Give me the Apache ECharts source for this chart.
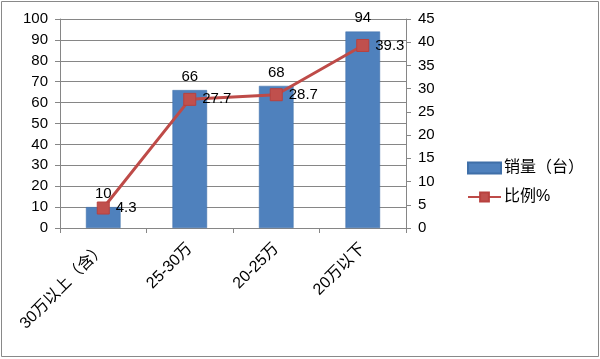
<!DOCTYPE html>
<html><head><meta charset="utf-8">
<script src="https://cdn.jsdelivr.net/npm/echarts@6/dist/echarts.min.js"></script>
<style>html,body{margin:0;padding:0;background:#fff}#c{width:600px;height:359px}</style>
</head><body><div id="c"></div>
<script>
const categories = ['30万以上（含）', '25-30万', '20-25万', '20万以下'];
const salesValues = [10, 66, 68, 94];
const ratioValues = [4.3, 27.7, 28.7, 39.3];
const leftTicks = {min: 0, max: 100, interval: 10};
const rightTicks = {min: 0, max: 45, interval: 5};

const font = 'Arial, "Liberation Sans", "Noto Sans CJK SC", sans-serif';
const chart = echarts.init(document.getElementById('c'));
chart.setOption({
  animation: false,
  textStyle: {fontFamily: font},
  graphic: [{type: 'rect', shape: {x: 1.5, y: 1.5, width: 597, height: 355}, style: {fill: 'none', stroke: '#898989', lineWidth: 1}, z: -1}],
  grid: {left: 60, right: 194, top: 19, bottom: 131},
  legend: {
    orient: 'vertical', left: 462, top: 155, itemWidth: 33, itemHeight: 11, itemGap: 13,
    textStyle: {fontSize: 16, color: '#000', fontFamily: font, padding: [0, 0, 0, -2]},
    data: [{name: '销量（台）', icon: 'rect'}, {name: '比例%'}]
  },
  xAxis: {
    type: 'category', data: categories,
    axisLine: {lineStyle: {color: '#868686'}},
    axisTick: {show: true, length: 5, lineStyle: {color: '#868686'}},
    axisLabel: {rotate: 45, fontSize: 16, color: '#000', margin: 18, fontFamily: font}
  },
  yAxis: [{
    type: 'value', ...leftTicks,
    axisLine: {show: true, lineStyle: {color: '#868686'}},
    axisTick: {show: true, length: 5, lineStyle: {color: '#868686'}},
    axisLabel: {fontSize: 15, color: '#000', margin: 12, fontFamily: font},
    splitLine: {lineStyle: {color: '#868686'}}
  }, {
    type: 'value', ...rightTicks,
    axisLine: {show: true, lineStyle: {color: '#868686'}},
    axisTick: {show: true, length: 5, lineStyle: {color: '#868686'}},
    axisLabel: {fontSize: 15, color: '#000', margin: 12, fontFamily: font},
    splitLine: {show: false}
  }],
  series: [{
    name: '销量（台）', type: 'bar', data: salesValues, barWidth: '40%',
    itemStyle: {color: '#4F81BD', borderColor: '#3F6FA8', borderWidth: 0.5},
    label: {show: true, position: 'top', fontSize: 15, color: '#000', distance: 6, fontFamily: font}
  }, {
    name: '比例%', type: 'line', yAxisIndex: 1, data: ratioValues,
    symbol: 'rect', symbolSize: 12,
    lineStyle: {color: '#BE4B48', width: 3},
    itemStyle: {color: '#C0504D', borderColor: '#B8413E', borderWidth: 1},
    label: {show: true, position: 'right', fontSize: 15, color: '#000', distance: 6, fontFamily: font}
  }]
});
</script></body></html>
